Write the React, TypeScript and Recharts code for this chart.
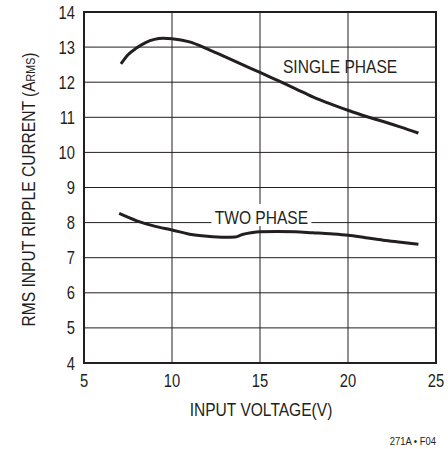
import React from 'react';
import { LineChart, Line, XAxis, YAxis, CartesianGrid, ReferenceArea, Label } from 'recharts';

const singleVoltage = [7.1, 7.5, 8, 8.5, 9, 9.5, 10, 11, 12, 13, 14, 15, 16, 17, 18, 19, 20, 21, 22, 23, 24];
const singleCurrent = [12.52, 12.78, 12.98, 13.13, 13.22, 13.25, 13.24, 13.15, 12.95, 12.73, 12.5, 12.28, 12.05, 11.82, 11.58, 11.38, 11.2, 11.03, 10.88, 10.72, 10.55];

const twoVoltage = [7, 8, 9, 10, 11, 12, 13, 13.6, 14, 14.5, 15, 16, 17, 18, 19, 20, 21, 22, 23, 24];
const twoCurrent = [8.26, 8.05, 7.9, 7.79, 7.67, 7.61, 7.58, 7.59, 7.66, 7.71, 7.74, 7.75, 7.74, 7.71, 7.68, 7.64, 7.57, 7.5, 7.44, 7.38];

const xTicks = [5, 10, 15, 20, 25];
const yTicks = [4, 5, 6, 7, 8, 9, 10, 11, 12, 13, 14];

const singleData = singleVoltage.map((v, i) => ({ v, a: singleCurrent[i] }));
const twoData = twoVoltage.map((v, i) => ({ v, a: twoCurrent[i] }));

const FONT = '"Liberation Sans", Arial, sans-serif';
const INK = '#231f20';
const NARROW = 0.82;

// Helvetica Narrow look: Liberation Sans squeezed horizontally
const NarrowText = ({ x, y, size, anchor = 'start', rotate = 0, children }: any) => (
  <text
    transform={`translate(${x},${y}) rotate(${rotate}) scale(${NARROW},1)`}
    x={0}
    y={0}
    textAnchor={anchor}
    fontFamily={FONT}
    fontSize={size}
    fill={INK}
  >
    {children}
  </text>
);

const XTick = (props: any) => (
  <NarrowText x={props.x} y={props.y + 24} size={18} anchor="middle">
    {props.payload.value}
  </NarrowText>
);

const YTick = (props: any) => (
  <NarrowText x={props.x} y={props.y + 6.5} size={18} anchor="end">
    {props.payload.value}
  </NarrowText>
);

const YTitle = (props: any) => {
  const { y, height } = props.viewBox;
  return (
    <NarrowText x={35} y={y + height / 2 + 2} size={19} anchor="middle" rotate={-90}>
      RMS INPUT RIPPLE CURRENT (A<tspan fontSize={13}>RMS</tspan>)
    </NarrowText>
  );
};

const XTitle = (props: any) => {
  const { x, y, width } = props.viewBox;
  return (
    <g>
      <NarrowText x={x + width / 2 + 1} y={y + 53} size={19} anchor="middle">
        INPUT VOLTAGE(V)
      </NarrowText>
      <NarrowText x={x + width} y={y + 82} size={11.5} anchor="end">
        271A • F04
      </NarrowText>
    </g>
  );
};

const TwoPhaseLabel = (props: any) => {
  const { x, y, width } = props.viewBox;
  return (
    <NarrowText x={x + width / 2} y={y + 20} size={19} anchor="middle">
      TWO PHASE
    </NarrowText>
  );
};

const SinglePhaseLabel = (props: any) => {
  const { x, y, width, height } = props.viewBox;
  return (
    <NarrowText x={x + width / 2} y={y + height} size={19} anchor="middle">
      SINGLE PHASE
    </NarrowText>
  );
};

export default function App() {
  return (
    <div style={{ width: 448, height: 449, background: '#fff' }}>
      <style>{'body{margin:0}'}</style>
      <LineChart width={448} height={449} margin={{ top: 12, right: 12, left: 0, bottom: 0 }}>
        <CartesianGrid stroke={INK} strokeWidth={1} />
        <XAxis
          type="number"
          dataKey="v"
          domain={[5, 25]}
          ticks={xTicks}
          height={86}
          axisLine={false}
          tickLine={false}
          tickSize={0}
          tickMargin={0}
          tick={XTick}
          allowDataOverflow
        >
          <Label content={XTitle} />
        </XAxis>
        <YAxis
          type="number"
          domain={[4, 14]}
          ticks={yTicks}
          width={84}
          axisLine={false}
          tickLine={false}
          tickSize={0}
          tickMargin={9}
          tick={YTick}
          allowDataOverflow
        >
          <Label content={YTitle} />
        </YAxis>
        <ReferenceArea x1={12.24} x2={17.92} y1={7.9} y2={8.53} fill="#fff" fillOpacity={1} stroke="none">
          <Label content={TwoPhaseLabel} />
        </ReferenceArea>
        <ReferenceArea x1={16} x2={23.1} y1={12.25} y2={12.65} fill="none" fillOpacity={0} stroke="none">
          <Label content={SinglePhaseLabel} />
        </ReferenceArea>
        <Line
          data={singleData}
          dataKey="a"
          type="monotone"
          stroke={INK}
          strokeWidth={3}
          dot={false}
          isAnimationActive={false}
        />
        <Line
          data={twoData}
          dataKey="a"
          type="monotone"
          stroke={INK}
          strokeWidth={3}
          dot={false}
          isAnimationActive={false}
        />
        <ReferenceArea x1={5} x2={25} y1={4} y2={14} fill="none" stroke={INK} strokeWidth={2} ifOverflow="visible" />
      </LineChart>
    </div>
  );
}
